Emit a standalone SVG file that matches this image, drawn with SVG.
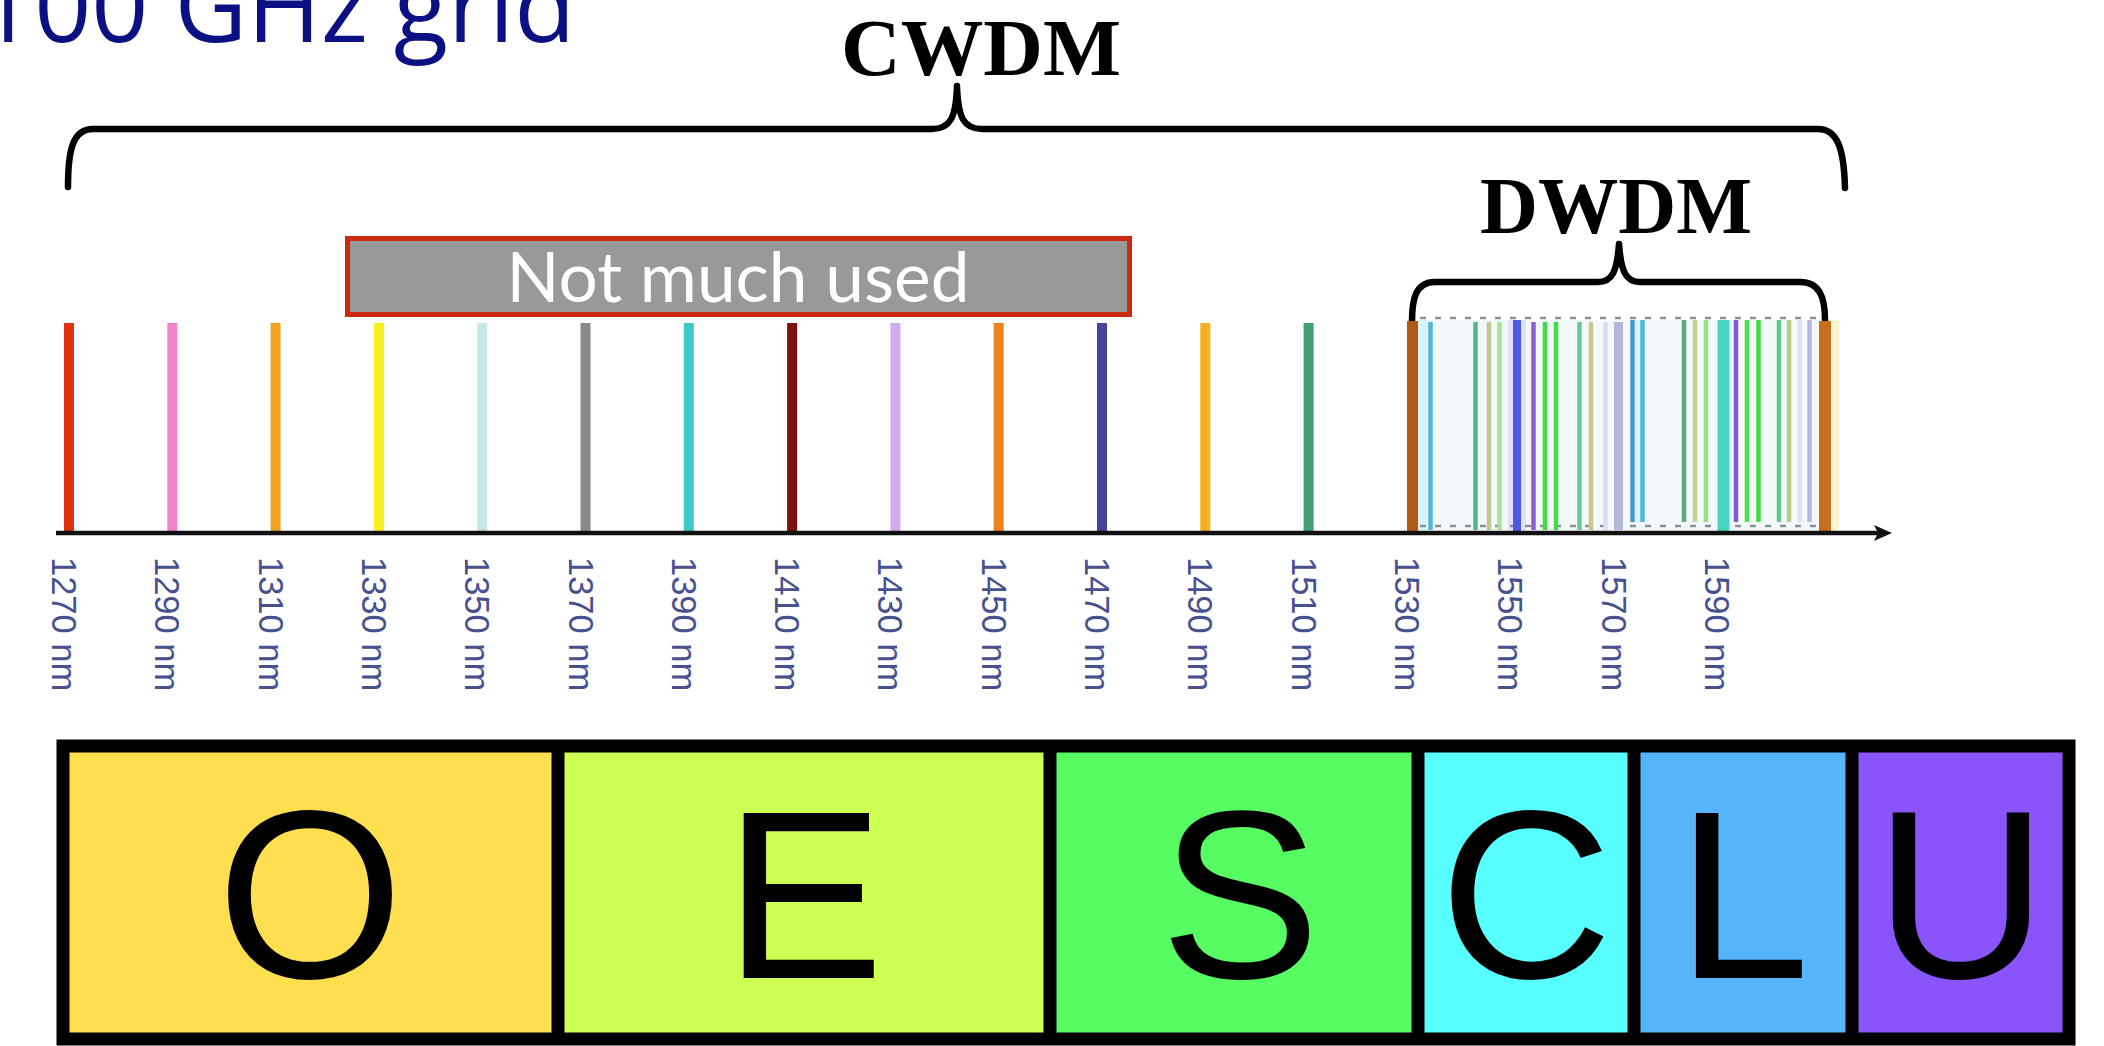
<svg xmlns="http://www.w3.org/2000/svg" width="2104" height="1046" viewBox="0 0 2104 1046">
  <style>
    .brace { fill: none; stroke: #000; stroke-width: 6.5; stroke-linecap: round; stroke-linejoin: round; }
    .band-title { font-family: "Liberation Serif", "Times New Roman", serif; font-weight: bold; font-size: 80px; fill: #000; }
    .ch { stroke-width: 10; stroke-linecap: butt; }
    .dw { stroke-width: 4.5; stroke-linecap: butt; }
    .wl { font-family: "Liberation Sans", Arial, sans-serif; font-size: 34.5px; fill: #47518f; }
    .band { stroke: none; }
    .band-letter { font-family: "Liberation Sans", Arial, sans-serif; font-size: 240px; fill: #000; text-anchor: middle; }
    .dash { fill: none; stroke: #8a8f98; stroke-width: 2.5; stroke-dasharray: 6 9; }
  </style>

  <rect width="2104" height="1046" fill="#fff"/>

  <!-- heading -->
  <g id="title">
    <text x="-23" y="42" font-family="Open Sans, Noto Sans, sans-serif" font-size="100" fill="#0b1083">100 GHz grid</text>
  </g>

  <!-- CWDM span brace and label -->
  <g id="cwdm">
    <text class="band-title" x="841" y="75" textLength="280" lengthAdjust="spacingAndGlyphs">CWDM</text>
    <path class="brace" d="M68,187 C68,152 72,129 93,129 L932,129 C950,129 956,118 957,86 C958,118 964,129 982,129 L1818,129 C1838,129 1844,150 1845,188"/>
  </g>

  <!-- DWDM span brace and label -->
  <g id="dwdm">
    <text class="band-title" x="1480" y="233" textLength="272" lengthAdjust="spacingAndGlyphs">DWDM</text>
    <path class="brace" d="M1412,322 C1412,300 1415,282 1435,282 L1598,282 C1612,282 1617,272 1619,244 C1621,272 1626,282 1640,282 L1800,282 C1820,282 1825,298 1825,320"/>
  </g>

  <!-- "Not much used" callout -->
  <g id="not-much-used">
    <rect x="347.5" y="238.5" width="782" height="76" fill="#999999" stroke="#cc2a10" stroke-width="5"/>
    <text x="738" y="302" font-family="Lato, Open Sans, sans-serif" font-size="70" fill="#fff" text-anchor="middle" textLength="463" lengthAdjust="spacingAndGlyphs">Not much used</text>
  </g>

  <!-- DWDM channel comb -->
  <g id="dwdm-comb">
    <rect x="1418" y="320" width="400" height="210" fill="#f3f8fa"/>
    <rect x="1418" y="320" width="10" height="210" fill="#d8f6fa"/>
    <rect x="1508" y="320" width="18" height="210" fill="#dfe2f8"/>
    <rect x="1635" y="320" width="6" height="202" fill="#d6f6fb"/>
    <rect x="1832" y="320" width="7" height="210" fill="#fff6d4"/>
    <line class="dash" x1="1420" y1="318" x2="1818" y2="318"/>
    <line class="dash" x1="1420" y1="526" x2="1818" y2="526"/>
    <g class="dw">
      <line x1="1430.5" y1="322" x2="1430.5" y2="530" stroke="#4fb6d8"/>
      <line x1="1475.5" y1="322" x2="1475.5" y2="530" stroke="#52b68e"/>
      <line x1="1489" y1="322" x2="1489" y2="530" stroke="#bcc88e"/>
      <line x1="1499.5" y1="322" x2="1499.5" y2="530" stroke="#a6e496"/>
      <line x1="1517" y1="320" x2="1517" y2="531" stroke="#4f5ae2" stroke-width="8"/>
      <line x1="1533.5" y1="322" x2="1533.5" y2="530" stroke="#8c5ed0"/>
      <line x1="1545" y1="322" x2="1545" y2="530" stroke="#3fdd3f"/>
      <line x1="1556" y1="322" x2="1556" y2="530" stroke="#3fdd3f"/>
      <line x1="1579.5" y1="322" x2="1579.5" y2="530" stroke="#6cc890"/>
      <line x1="1591" y1="322" x2="1591" y2="530" stroke="#c6c890"/>
      <line x1="1605.5" y1="322" x2="1605.5" y2="530" stroke="#dcdcf0"/>
      <line x1="1618.5" y1="322" x2="1618.5" y2="530" stroke="#b4b6da" stroke-width="9"/>
      <line x1="1632.5" y1="320" x2="1632.5" y2="522" stroke="#4a98c8"/>
      <line x1="1642.5" y1="320" x2="1642.5" y2="522" stroke="#55b5e2"/>
      <line x1="1684" y1="320" x2="1684" y2="522" stroke="#52b07e"/>
      <line x1="1695" y1="320" x2="1695" y2="522" stroke="#c2d090"/>
      <line x1="1706" y1="320" x2="1706" y2="522" stroke="#9ade80"/>
      <line x1="1723.5" y1="320" x2="1723.5" y2="531" stroke="#46d6c0" stroke-width="12"/>
      <line x1="1736" y1="320" x2="1736" y2="522" stroke="#7e5ed8"/>
      <line x1="1747" y1="320" x2="1747" y2="522" stroke="#4ede4e"/>
      <line x1="1758.5" y1="320" x2="1758.5" y2="522" stroke="#3fde3f"/>
      <line x1="1779" y1="320" x2="1779" y2="522" stroke="#60c68e"/>
      <line x1="1789" y1="320" x2="1789" y2="522" stroke="#b2d08e"/>
      <line x1="1800" y1="320" x2="1800" y2="522" stroke="#e0e0f0"/>
      <line x1="1809.5" y1="320" x2="1809.5" y2="522" stroke="#b6b8e0"/>
    </g>
  </g>

  <!-- CWDM channels, 20 nm apart -->
  <g id="cwdm-channels" class="ch">
    <line x1="69" y1="323" x2="69" y2="532" stroke="#e2310f"/>
    <line x1="172.3" y1="323" x2="172.3" y2="532" stroke="#f283cb"/>
    <line x1="275.6" y1="323" x2="275.6" y2="532" stroke="#f0a322"/>
    <line x1="378.9" y1="323" x2="378.9" y2="532" stroke="#f5f01e"/>
    <line x1="482.2" y1="323" x2="482.2" y2="532" stroke="#c8e6e3"/>
    <line x1="585.5" y1="323" x2="585.5" y2="532" stroke="#8a8a8a"/>
    <line x1="688.8" y1="323" x2="688.8" y2="532" stroke="#3ec8c8"/>
    <line x1="792.1" y1="323" x2="792.1" y2="532" stroke="#7e1010"/>
    <line x1="895.4" y1="323" x2="895.4" y2="532" stroke="#d2aaf2"/>
    <line x1="998.7" y1="323" x2="998.7" y2="532" stroke="#f0821f"/>
    <line x1="1102" y1="323" x2="1102" y2="532" stroke="#43439a"/>
    <line x1="1205.3" y1="323" x2="1205.3" y2="532" stroke="#f4b020"/>
    <line x1="1308.6" y1="323" x2="1308.6" y2="532" stroke="#3fa173"/>
    <line x1="1412.5" y1="321" x2="1412.5" y2="532" stroke="#b05a14" stroke-width="11"/>
    <line x1="1825" y1="321" x2="1825" y2="532" stroke="#c6701e" stroke-width="12"/>
  </g>

  <!-- wavelength axis -->
  <g id="axis">
    <line x1="56" y1="533" x2="1880" y2="533" stroke="#111" stroke-width="4.5"/>
    <polygon points="1874,525 1892,533 1874,541 1878,533" fill="#111"/>
  </g>

  <!-- wavelength labels -->
  <g id="wavelength-labels">
    <text class="wl" transform="translate(52,557) rotate(90)">1270 nm</text>
    <text class="wl" transform="translate(155.3,557) rotate(90)">1290 nm</text>
    <text class="wl" transform="translate(258.6,557) rotate(90)">1310 nm</text>
    <text class="wl" transform="translate(361.9,557) rotate(90)">1330 nm</text>
    <text class="wl" transform="translate(465.2,557) rotate(90)">1350 nm</text>
    <text class="wl" transform="translate(568.5,557) rotate(90)">1370 nm</text>
    <text class="wl" transform="translate(671.8,557) rotate(90)">1390 nm</text>
    <text class="wl" transform="translate(775.1,557) rotate(90)">1410 nm</text>
    <text class="wl" transform="translate(878.4,557) rotate(90)">1430 nm</text>
    <text class="wl" transform="translate(981.7,557) rotate(90)">1450 nm</text>
    <text class="wl" transform="translate(1085,557) rotate(90)">1470 nm</text>
    <text class="wl" transform="translate(1188.3,557) rotate(90)">1490 nm</text>
    <text class="wl" transform="translate(1291.6,557) rotate(90)">1510 nm</text>
    <text class="wl" transform="translate(1394.9,557) rotate(90)">1530 nm</text>
    <text class="wl" transform="translate(1498.2,557) rotate(90)">1550 nm</text>
    <text class="wl" transform="translate(1601.5,557) rotate(90)">1570 nm</text>
    <text class="wl" transform="translate(1704.8,557) rotate(90)">1590 nm</text>
  </g>

  <!-- optical bands O E S C L U -->
  <g id="bands">
    <rect class="band" x="63" y="746" width="495" height="293" fill="#ffdf4f"/>
    <rect class="band" x="558" y="746" width="492" height="293" fill="#ccff52"/>
    <rect class="band" x="1050" y="746" width="368" height="293" fill="#57fb62"/>
    <rect class="band" x="1418" y="746" width="216" height="293" fill="#58ffff"/>
    <rect class="band" x="1634" y="746" width="218" height="293" fill="#55b4fa"/>
    <rect class="band" x="1852" y="746" width="217" height="293" fill="#8a54fb"/>
    <g stroke="#000" stroke-width="13">
      <rect x="63" y="746" width="2006" height="293" fill="none"/>
      <line x1="558" y1="746" x2="558" y2="1039"/>
      <line x1="1050" y1="746" x2="1050" y2="1039"/>
      <line x1="1418" y1="746" x2="1418" y2="1039"/>
      <line x1="1634" y1="746" x2="1634" y2="1039"/>
      <line x1="1852" y1="746" x2="1852" y2="1039"/>
    </g>
    <text class="band-letter" x="310" y="978">O</text>
    <text class="band-letter" x="804" y="978">E</text>
    <text class="band-letter" x="1240" y="978">S</text>
    <text class="band-letter" x="1526" y="978">C</text>
    <text class="band-letter" x="1743" y="978">L</text>
    <text class="band-letter" x="1961" y="978">U</text>
  </g>
</svg>
